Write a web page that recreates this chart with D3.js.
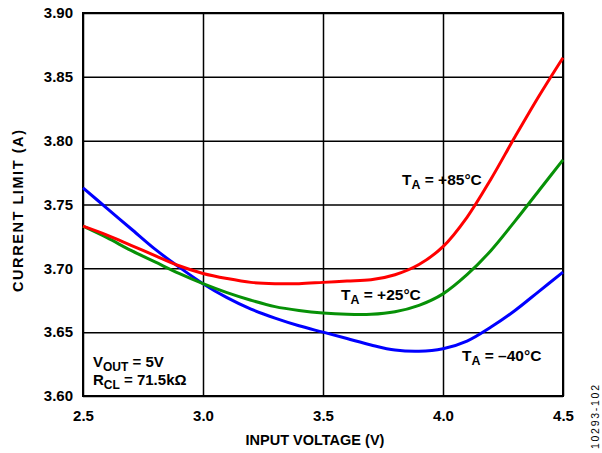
<!DOCTYPE html>
<html>
<head>
<meta charset="utf-8">
<script src="https://cdn.jsdelivr.net/npm/d3@7"></script>
<style>
  body { margin: 0; background: #fff; }
  svg text { font-family: "Liberation Sans", Arial, sans-serif; font-weight: bold; fill: #000; }
</style>
</head>
<body>
<div id="chart"></div>
<script>
// input voltage (V)
var voltage = [2.5, 2.6, 2.7, 2.8, 2.9, 3.0, 3.1, 3.2, 3.3, 3.4, 3.5, 3.6, 3.7, 3.8, 3.9, 4.0, 4.1, 4.2, 4.3, 4.4, 4.5];
// current limit (A) per temperature
var limitMinus40 = [3.763, 3.747, 3.731, 3.715, 3.701, 3.688, 3.677, 3.668, 3.661, 3.655, 3.650, 3.645, 3.640, 3.636, 3.635, 3.637, 3.643, 3.654, 3.667, 3.682, 3.697];
var limitPlus25 = [3.733, 3.724, 3.714, 3.705, 3.696, 3.688, 3.681, 3.675, 3.670, 3.667, 3.665, 3.664, 3.664, 3.666, 3.671, 3.680, 3.695, 3.714, 3.737, 3.761, 3.785];
var limitPlus85 = [3.733, 3.726, 3.718, 3.710, 3.702, 3.696, 3.692, 3.689, 3.688, 3.688, 3.689, 3.690, 3.691, 3.695, 3.703, 3.717, 3.740, 3.770, 3.803, 3.835, 3.865];
var xTicks = [2.5, 3.0, 3.5, 4.0, 4.5];
var yTicks = [3.60, 3.65, 3.70, 3.75, 3.80, 3.85, 3.90];

var width = 602, height = 453;
var margin = { top: 13, right: 39, bottom: 57, left: 83 };
var plotW = width - margin.left - margin.right;
var plotH = height - margin.top - margin.bottom;

var svg = d3.select("#chart").append("svg")
    .attr("width", width)
    .attr("height", height);

var g = svg.append("g")
    .attr("transform", "translate(" + margin.left + "," + margin.top + ")");

var xScale = d3.scaleLinear().domain([2.5, 4.5]).range([0, plotW]);
var yScale = d3.scaleLinear().domain([3.60, 3.90]).range([plotH, 0]);

// grid + tick labels
g.append("g")
    .attr("transform", "translate(0," + plotH + ")")
    .call(d3.axisBottom(xScale).tickValues(xTicks).tickSize(-plotH).tickFormat(d3.format(".1f")).tickPadding(14))
    .call(function (a) {
        a.select(".domain").remove();
        a.selectAll("line").attr("stroke", "#000").attr("stroke-width", 1.5);
        a.selectAll("text").attr("font-size", 15).attr("fill", "#000");
    });

g.append("g")
    .call(d3.axisLeft(yScale).tickValues(yTicks).tickSize(-plotW).tickFormat(d3.format(".2f")).tickPadding(10))
    .call(function (a) {
        a.select(".domain").remove();
        a.selectAll("line").attr("stroke", "#000").attr("stroke-width", 1.5);
        a.selectAll("text").attr("font-size", 15).attr("fill", "#000");
    });

g.append("rect")
    .attr("width", plotW)
    .attr("height", plotH)
    .attr("fill", "none")
    .attr("stroke", "#000")
    .attr("stroke-width", 2);

var line = d3.line()
    .x(function (d) { return xScale(d[0]); })
    .y(function (d) { return yScale(d[1]); })
    .curve(d3.curveCatmullRom.alpha(0.5));

var series = [
    { values: limitMinus40, color: "#0000ff" },
    { values: limitPlus25, color: "#079107" },
    { values: limitPlus85, color: "#ff0000" }
];

series.forEach(function (s) {
    g.append("path")
        .datum(d3.zip(voltage, s.values))
        .attr("fill", "none")
        .attr("stroke", s.color)
        .attr("stroke-width", 3)
        .attr("d", line);
});

// labels with subscripts
function subLabel(x, y, size, main, sub, rest) {
    var t = svg.append("text").attr("x", x).attr("y", y).attr("font-size", size);
    t.append("tspan").text(main);
    t.append("tspan").attr("dy", 4).attr("font-size", size * 0.8).text(sub);
    t.append("tspan").attr("dy", -4).text(rest);
    return t;
}
subLabel(402, 185, 15.5, "T", "A", " = +85°C");
subLabel(341, 300, 15.5, "T", "A", " = +25°C");
subLabel(462, 361, 15.5, "T", "A", " = –40°C");
subLabel(93, 367, 15, "V", "OUT", " = 5V");
subLabel(93, 385, 15, "R", "CL", " = 71.5kΩ");

// axis titles
svg.append("text")
    .attr("x", 315)
    .attr("y", 445)
    .attr("text-anchor", "middle")
    .attr("font-size", 14.5)
    .text("INPUT VOLTAGE (V)");

svg.append("text")
    .attr("transform", "translate(23,211) rotate(-90)")
    .attr("text-anchor", "middle")
    .attr("font-size", 14.5)
    .attr("textLength", 162)
    .attr("lengthAdjust", "spacing")
    .text("CURRENT LIMIT (A)");

svg.append("text")
    .attr("transform", "translate(599,449) rotate(-90)")
    .attr("font-size", 10.5)
    .attr("textLength", 64)
    .style("font-weight", "normal")
    .text("10293-102");
</script>
</body>
</html>
